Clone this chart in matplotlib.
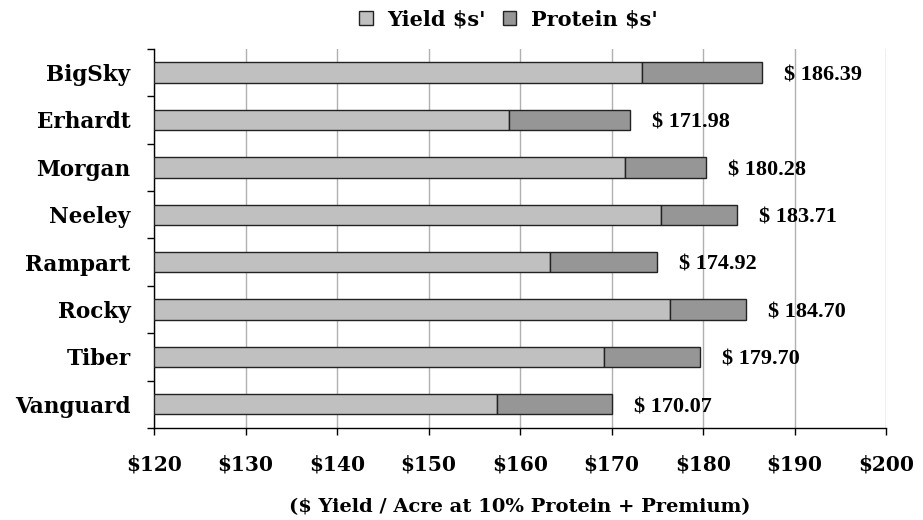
import numpy as np
import matplotlib
matplotlib.use("Agg")
import matplotlib.pyplot as plt
from matplotlib.ticker import FixedLocator

# varieties, top to bottom
varieties = ["BigSky", "Erhardt", "Morgan", "Neeley", "Rampart", "Rocky", "Tiber", "Vanguard"]
totals = [186.39, 171.98, 180.28, 183.71, 174.92, 184.70, 179.70, 170.07]
yield_dollars = [173.3, 158.8, 171.5, 175.4, 163.3, 176.4, 169.2, 157.5]
protein_dollars = [t - y for t, y in zip(totals, yield_dollars)]
x_ticks = [120, 130, 140, 150, 160, 170, 180, 190, 200]
base = 120

plt.rcParams['font.family'] = ['DejaVu Serif']
plt.rcParams['font.weight'] = 'bold'
plt.rcParams['text.parse_math'] = False

fig = plt.figure(figsize=(9.23, 5.2), dpi=100)
ax = fig.add_axes([0.167, 0.177, 0.793, 0.729])

y = np.arange(len(varieties))
yld = np.array(yield_dollars) - base
ax.barh(y, yld, left=base, height=0.43, color="#c0c0c0", edgecolor="#222222",
        linewidth=1, label="Yield $s'", zorder=3)
ax.barh(y, protein_dollars, left=yield_dollars, height=0.43, color="#969696",
        edgecolor="#222222", linewidth=1, label="Protein $s'", zorder=3)

# total labels
for yi, t in zip(y, totals):
    ax.text(t + 2.4, yi + 0.06, "$ %.2f" % t, va="center", ha="left",
            fontsize=16, fontweight="bold", family=["Liberation Serif"])

ax.set_xlim(120, 200)
ax.set_ylim(len(varieties) - 0.5, -0.5)
ax.set_xticks(x_ticks)
ax.set_xticklabels(["$%d" % v for v in x_ticks], fontsize=14.5, fontweight="bold")
ax.tick_params(axis="x", direction="out", length=5, width=1, pad=14)

ax.set_yticks(y)
ax.set_yticklabels(varieties, fontsize=15.5, fontweight="bold")
ax.tick_params(axis="y", which="major", length=0, pad=17)
ax.yaxis.set_minor_locator(FixedLocator(np.arange(-0.5, len(varieties), 1.0)))
ax.tick_params(axis="y", which="minor", direction="out", length=5, width=1)

ax.grid(axis="x", color="#b0b0b0", linewidth=1, zorder=0)
ax.set_axisbelow(True)
for s in ["top", "right"]:
    ax.spines[s].set_visible(False)
ax.spines["left"].set_linewidth(1)
ax.spines["bottom"].set_linewidth(1)

ax.set_xlabel("($ Yield / Acre at 10% Protein + Premium)", fontsize=14,
              fontweight="bold", labelpad=17)

ax.legend(loc="lower center", bbox_to_anchor=(0.484, 1.0), ncol=2, frameon=False,
          fontsize=15, handlelength=0.65, handleheight=0.65, handletextpad=0.7,
          columnspacing=0.8, borderaxespad=0.55)

fig.savefig("out.png", dpi=100)
